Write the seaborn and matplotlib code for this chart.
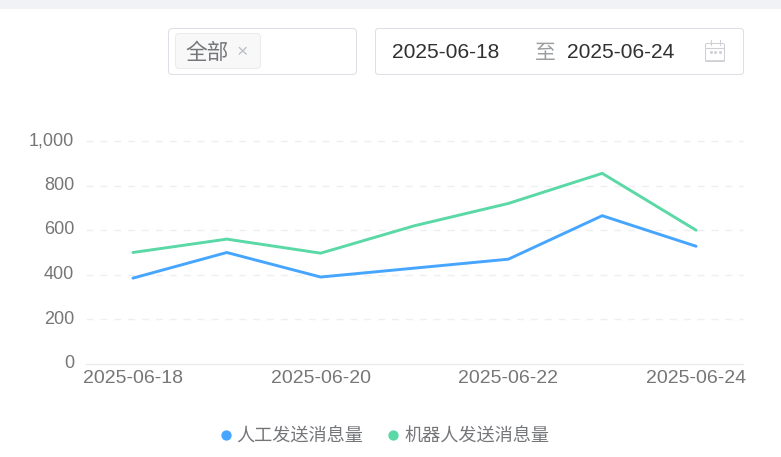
import matplotlib
matplotlib.use("Agg")
import matplotlib.pyplot as plt
from matplotlib.lines import Line2D
from matplotlib.patches import FancyBboxPatch, Rectangle
from matplotlib.transforms import IdentityTransform, ScaledTranslation
import pandas as pd
import seaborn as sns

dates = ["2025-06-18", "2025-06-19", "2025-06-20", "2025-06-21", "2025-06-22", "2025-06-23", "2025-06-24"]
human = [385, 500, 390, 430, 470, 665, 528]
robot = [500, 560, 497, 620, 720, 855, 600]
names = ["人工发送消息量", "机器人发送消息量"]
colors = ["#46a6ff", "#5ad8a6"]
yticks = [0, 200, 400, 600, 800, 1000]
ytick_labels = ["0", "200", "400", "600", "800", "1,000"]
xtick_every = 2

W, H = 781, 457
sns.set_theme(style="white")
plt.rcParams["font.family"] = ["Liberation Sans", "Noto Sans CJK SC", "DejaVu Sans"]

fig = plt.figure(figsize=(W / 100, H / 100), dpi=100, facecolor="white")
ax = fig.add_axes([86 / W, 1 - 364 / H, 657 / W, 223 / H])

df = pd.DataFrame({
    "date": dates * 2,
    "value": human + robot,
    "series": [names[0]] * 7 + [names[1]] * 7,
})
sns.lineplot(data=df, x="date", y="value", hue="series", palette=colors,
             linewidth=2.1, ax=ax, legend=False, sort=False,
             solid_joinstyle="miter")

ax.set_xlim(-0.5, 6.5)
ax.set_ylim(0, 1000)
ax.set_xlabel("")
ax.set_ylabel("")
for s in ["top", "right", "left"]:
    ax.spines[s].set_visible(False)
ax.spines["bottom"].set_color("#ebebeb")
ax.spines["bottom"].set_linewidth(1.0)
ax.set_yticks(yticks, ytick_labels)
ax.set_xticks(range(0, 7, xtick_every), dates[::xtick_every])
ax.tick_params(axis="both", length=0, labelcolor="#767676")
ax.tick_params(axis="x", labelsize=14, pad=4)
ax.tick_params(axis="y", labelsize=13, pad=8.5)
shift = ScaledTranslation(0, 1.6 / 72, fig.dpi_scale_trans)
for lab in ax.get_yticklabels():
    lab.set_transform(lab.get_transform() + shift)
for v in yticks[1:]:
    ax.axhline(v, color="#efefef", lw=1.0, dashes=(5, 5), zorder=0, clip_on=False)

def xf(x): return x / W
def yf(y): return 1 - y / H

def box(x0, y0, x1, y1, r, ec, fc="white"):
    # pixel-space rounded rectangle on the figure
    p = FancyBboxPatch((x0 + r, H - y1 + r), x1 - x0 - 2 * r, y1 - y0 - 2 * r,
                       boxstyle=f"round,pad={r},rounding_size={r}",
                       ec=ec, fc=fc, lw=0.72)
    p.set_transform(IdentityTransform())
    fig.add_artist(p)

fig.add_artist(Rectangle((0, yf(9)), 1, 9 / H, transform=fig.transFigure, fc="#f0f2f5", ec="none"))
box(168.5, 28.5, 356.5, 74.5, 4, "#dcdfe6")
box(175.5, 33.5, 260.5, 68.5, 4, "#ebebed", "#f8f8f9")
box(375.5, 28.5, 743.5, 74.5, 3, "#dcdfe6")

def txt(x, y, s, size, color, ha="left"):
    fig.text(xf(x), yf(y), s, fontsize=size, color=color, ha=ha, va="center")

txt(185.5, 53.5, "全部", 15.6, "#74767a")
txt(242, 53, "×", 14, "#bcbfc6", "center")
txt(392, 53, "2025-06-18", 15.1, "#303133")
txt(545, 53.5, "至", 15, "#9b9da1", "center")
txt(567, 53, "2025-06-24", 15.1, "#303133")

# calendar icon
c = "#cdcfd4"
box(705.5, 43.5, 724.5, 61.5, 1.5, c)
for xx in (710.5, 719.5):
    fig.add_artist(Line2D([xf(xx)] * 2, [yf(40), yf(45)], color=c, lw=0.8))
fig.add_artist(Line2D([xf(706), xf(724)], [yf(47.5)] * 2, color=c, lw=0.8))
fig.add_artist(Line2D([xf(706), xf(724)], [yf(60.5)] * 2, color=c, lw=1.2))
for xx in (710.5, 715, 719.5):
    fig.add_artist(Line2D([xf(xx)], [yf(52)], marker="s", ms=1.0, color=c, lw=0))

handles = [Line2D([], [], marker="o", ls="none", ms=6.4, mfc=col, mec=col, label=n)
           for n, col in zip(names, colors)]
fig.legend(handles=handles, loc="center", bbox_to_anchor=(382 / W, yf(437)), ncol=2,
           frameon=False, fontsize=13.1, labelcolor="#74767a", handletextpad=0.0,
           columnspacing=1.05, handlelength=1.2, borderpad=0)

fig.savefig("out.png", dpi=100)
